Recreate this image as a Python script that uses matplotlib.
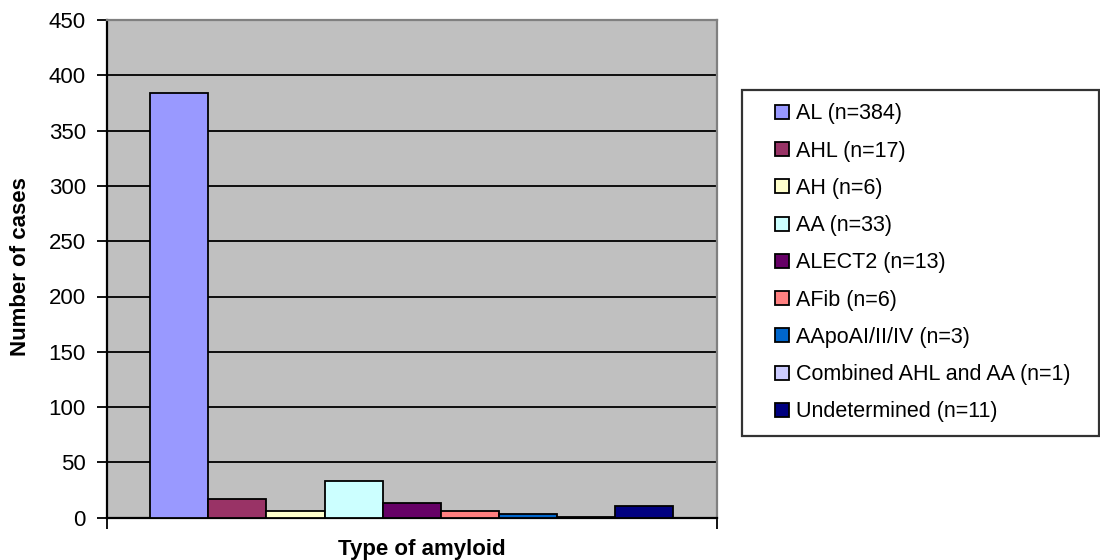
import matplotlib
matplotlib.use("Agg")
import matplotlib.pyplot as plt
from matplotlib.lines import Line2D

categories = ["AL (n=384)", "AHL (n=17)", "AH (n=6)", "AA (n=33)", "ALECT2 (n=13)",
              "AFib (n=6)", "AApoAI/II/IV (n=3)", "Combined AHL and AA (n=1)",
              "Undetermined (n=11)"]
values = [384, 17, 6, 33, 13, 6, 3, 1, 11]
colors = ["#9999FF", "#993366", "#FFFFCC", "#CCFFFF", "#660066",
          "#FF8080", "#0066CC", "#CCCCFF", "#000080"]
yticks = [0, 50, 100, 150, 200, 250, 300, 350, 400, 450]

plt.rcParams['font.family'] = ['Liberation Sans', 'DejaVu Sans']

W, H = 1100, 560
fig = plt.figure(figsize=(W / 100, H / 100), dpi=100)
ax = fig.add_axes([106.7 / W, (H - 517.7) / H, 610 / W, 497.7 / H])
ax.set_facecolor("#C0C0C0")

for i, (v, c, lab) in enumerate(zip(values, colors, categories)):
    ax.bar(i, v, width=1.0, color=c, edgecolor="black", linewidth=1.3,
           label=lab, zorder=3)

ax.set_xlim(-1.25, 9.25)
ax.set_ylim(0, 450)
ax.set_yticks(yticks)
ax.tick_params(axis='y', labelsize=16, length=7, width=1.3, direction='out', pad=8)
ax.set_xticks([-1.25, 9.25])
ax.set_xticklabels(["", ""])
ax.tick_params(axis='x', length=8, width=1.3, direction='out')
ax.yaxis.grid(True, color="black", linewidth=1.3, zorder=1)
ax.set_axisbelow(True)

ax.spines['left'].set_color("black")
ax.spines['left'].set_linewidth(1.6)
ax.spines['bottom'].set_color("black")
ax.spines['bottom'].set_linewidth(1.6)
ax.spines['top'].set_color("#808080")
ax.spines['top'].set_linewidth(1.6)
ax.spines['right'].set_color("#808080")
ax.spines['right'].set_linewidth(1.6)

fig.text(21 / W, 1 - 267 / H, "Number of cases", rotation=90, fontsize=16,
         fontweight='bold', ha='center', va='center')
fig.text(421.5 / W, 1 - 555.5 / H, "Type of amyloid", fontsize=16,
         fontweight='bold', ha='center', va='baseline')

handles = [Line2D([], [], linestyle='none', marker='s', markersize=9.5,
                  markerfacecolor=c, markeredgecolor='black', markeredgewidth=1.3)
           for c in colors]
leg = fig.legend(handles, categories, loc='upper left',
                 bbox_to_anchor=(742 / W, 1 - 90 / H - 0.1, 357 / W, 0.1),
                 mode='expand', ncol=1, fontsize=15.5, frameon=True, fancybox=False,
                 edgecolor="black", borderaxespad=0, handlelength=2.5,
                 handletextpad=-0.6, labelspacing=0.755, borderpad=0.62)
leg.get_frame().set_linewidth(1.6)

fig.savefig("out.png", dpi=100)
